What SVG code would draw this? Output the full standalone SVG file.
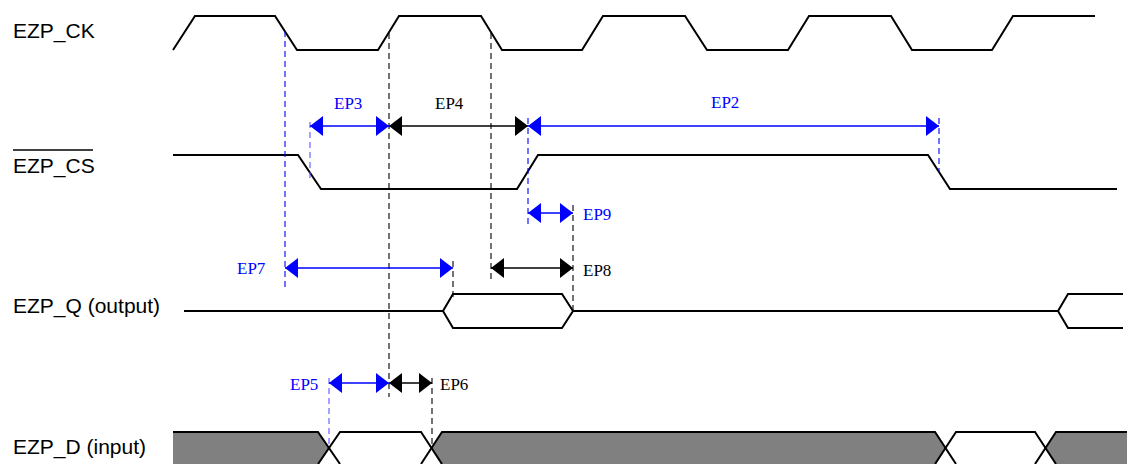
<svg xmlns="http://www.w3.org/2000/svg" width="1127" height="464" viewBox="0 0 1127 464">
<style>
.lbl{font-family:"Liberation Sans",Arial,sans-serif;font-size:21px;fill:#000}
.ep{font-family:"Liberation Serif","Times New Roman",serif;font-size:17px}
.blue{fill:#0000ff}
.blk{fill:#000}
.sig{fill:none;stroke:#000;stroke-width:2;stroke-linejoin:miter}
.dB{stroke:#0000ff;stroke-width:1.1;stroke-dasharray:6,4;fill:none}
.dB2{stroke:#5a5aff;stroke-width:1.1;stroke-dasharray:6,4;fill:none}
.dK{stroke:#000;stroke-width:1.1;stroke-dasharray:6,4;fill:none}
.aB{stroke:#0000ff;stroke-width:1.3;fill:none;marker-start:url(#hB);marker-end:url(#hB)}
.aK{stroke:#000;stroke-width:1.3;fill:none;marker-start:url(#hK);marker-end:url(#hK)}
</style>
<defs>
<marker id="hB" markerUnits="userSpaceOnUse" markerWidth="13" markerHeight="20" refX="13" refY="10" orient="auto-start-reverse" viewBox="0 0 13 20"><path d="M0,0 L13,10 L0,20 z" fill="#0000ff"/></marker>
<marker id="hK" markerUnits="userSpaceOnUse" markerWidth="13" markerHeight="20" refX="13" refY="10" orient="auto-start-reverse" viewBox="0 0 13 20"><path d="M0,0 L13,10 L0,20 z" fill="#000"/></marker>
</defs>

<g id="labels">
<text class="lbl" x="13" y="38">EZP_CK</text>
<line x1="13" y1="150" x2="93" y2="150" stroke="#000" stroke-width="1.5"/>
<text class="lbl" x="13" y="173">EZP_CS</text>
<text class="lbl" x="13" y="313">EZP_Q (output)</text>
<text class="lbl" x="13" y="454">EZP_D (input)</text>
</g>

<g id="sig-ck">
<polyline class="sig" points="173,50 195,16 275,16 297,50 378,50 399,16 481,16 502,50 582,50 603,16 685,16 707,50 788,50 809,16 891,16 912,50 992,50 1013,16 1095,16"/>
</g>

<g id="sig-cs">
<polyline class="sig" points="173,155 298,155 321,189 517,189 538,155 928,155 950,189 1117,189"/>
</g>

<g id="sig-q">
<polyline class="sig" points="184,311 443,311"/>
<polygon class="sig" points="443,311 453,294 562,294 573,311 562,328 453,328"/>
<polyline class="sig" points="573,311 1058,311"/>
<polyline class="sig" points="1123,294 1068,294 1058,311 1068,328 1123,328"/>
</g>

<g id="sig-d">
<polygon points="173,432 318,432 329,448 318,466 173,466" fill="#808080"/>
<polygon points="442,432 935,432 946,448 935,466 442,466 431.5,448" fill="#808080"/>
<polygon points="1056,432 1128,432 1128,466 1056,466 1046,448" fill="#808080"/>
<polyline class="sig" points="173,432 318,432 340,464"/>
<polyline class="sig" points="318,464 340,432 421,432 442,464"/>
<polyline class="sig" points="421,464 442,432 935,432 956,464"/>
<polyline class="sig" points="935,464 956,432 1035,432 1056,464"/>
<polyline class="sig" points="1035,464 1056,432 1128,432"/>
</g>

<g id="connectors">
<line class="dB" x1="285" y1="31" x2="285" y2="289"/>
<line class="dB2" x1="310" y1="122" x2="310" y2="178"/>
<line class="dK" x1="389" y1="33" x2="389" y2="397"/>
<line class="dK" x1="491" y1="33" x2="491" y2="281"/>
<line class="dB" x1="528" y1="118" x2="528" y2="225"/>
<line class="dK" x1="573" y1="205" x2="573" y2="311"/>
<line class="dK" x1="453" y1="261" x2="453" y2="297"/>
<line class="dB" x1="939" y1="118" x2="939" y2="171"/>
<line class="dB2" x1="329" y1="378" x2="329" y2="448"/>
<line class="dK" x1="432" y1="378" x2="432" y2="448"/>

<line class="aB" x1="310" y1="126" x2="389" y2="126"/>
<line class="aK" x1="389" y1="126" x2="528" y2="126"/>
<line class="aB" x1="528" y1="126" x2="939" y2="126"/>
<line class="aB" x1="528" y1="213" x2="573" y2="213"/>
<line class="aB" x1="285" y1="268" x2="453" y2="268"/>
<line class="aK" x1="491" y1="268" x2="573" y2="268"/>
<line class="aB" x1="329" y1="383" x2="389" y2="383"/>
<line class="aK" x1="389" y1="383" x2="432" y2="383"/>
</g>

<g id="timing-labels">
<text class="ep blue" x="334" y="109">EP3</text>
<text class="ep blk" x="435" y="109">EP4</text>
<text class="ep blue" x="711" y="108">EP2</text>
<text class="ep blue" x="583" y="220">EP9</text>
<text class="ep blue" x="237" y="274">EP7</text>
<text class="ep blk" x="583" y="276">EP8</text>
<text class="ep blue" x="290" y="390">EP5</text>
<text class="ep blk" x="440" y="390">EP6</text>
</g>
</svg>
